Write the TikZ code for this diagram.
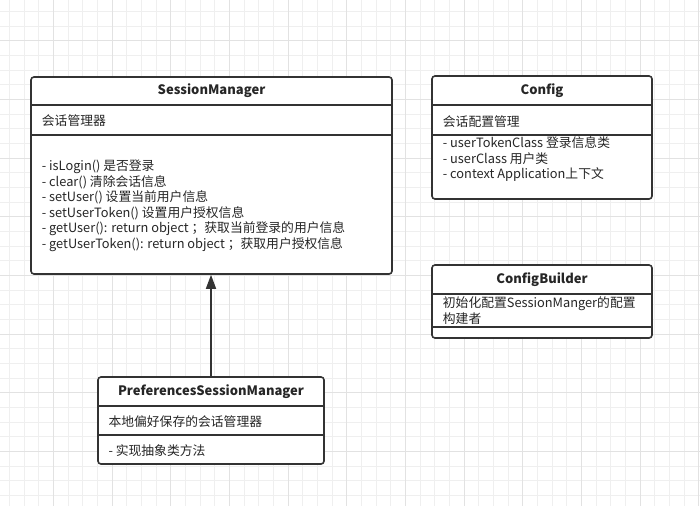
\documentclass[tikz,border=0pt]{standalone}
\usepackage{fontspec}
\setmainfont{Noto Sans CJK SC}
\usetikzlibrary{arrows.meta}
\definecolor{gridminor}{HTML}{EFEFEF}
\definecolor{gridmajor}{HTML}{E2E2E2}
\definecolor{umlline}{HTML}{333333}
\tikzset{
  classbox/.style={draw=umlline, line width=1.6pt, rounded corners=3pt, fill=white, inner sep=0pt},
  sep/.style={draw=umlline, line width=1.4pt},
  ctitle/.style={inner sep=0pt, font=\fontsize{13}{15}\selectfont\bfseries, text=black!85},
  ctext/.style={inner sep=0pt, anchor=west, font=\fontsize{12.8}{15}\selectfont, text=black!85},
}

\begin{document}
\begin{tikzpicture}[x=1pt, y=-1pt]
  \useasboundingbox (0,0) rectangle (700,506);
  \fill[white] (0,0) rectangle (700,506);
  % grid
  \foreach \k in {0,...,47} {
    \draw[gridminor, line width=0.8pt] ({9.33+14.667*\k}, 0) -- ({9.33+14.667*\k}, 506);
  }
  \foreach \k in {0,...,34} {
    \draw[gridminor, line width=0.8pt] (0, {11.33+14.667*\k}) -- (700, {11.33+14.667*\k});
  }
  \foreach \k in {0,...,11} {
    \draw[gridmajor, line width=0.8pt] ({53.33+58.67*\k}, 0) -- ({53.33+58.67*\k}, 506);
  }
  \foreach \k in {0,...,8} {
    \draw[gridmajor, line width=0.8pt] (0, {40.67+58.67*\k}) -- (700, {40.67+58.67*\k});
  }

  % SessionManager
  \node[classbox, minimum width=361pt, minimum height=197pt] (sm) at (211.5,175.5) {};
  \draw[sep] (sm.west |- 0,105) -- (sm.east |- 0,105);
  \draw[sep] (sm.west |- 0,135) -- (sm.east |- 0,135);
  \node[ctitle] (smtitle) at (211.5,91) {SessionManager};
  \node[ctext] (smdesc) at (41.7,120.5) {会话管理器};
  \foreach \t [count=\i] in {%
    - isLogin() 是否登录,
    - clear() 清除会话信息,
    - setUser() 设置当前用户信息,
    - setUserToken() 设置用户授权信息,
    - getUser(): return object ；获取当前登录的用户信息,
    - getUserToken(): return object ；获取用户授权信息} {
    \node[ctext] (smop\i) at (41.7, {151+15.6*\i}) {\t};
  }

  % Config
  \node[classbox, minimum width=220pt, minimum height=123pt] (cfg) at (542,137.5) {};
  \draw[sep] (cfg.west |- 0,105) -- (cfg.east |- 0,105);
  \draw[sep] (cfg.west |- 0,135) -- (cfg.east |- 0,135);
  \node[ctitle] (cfgtitle) at (542,90.5) {Config};
  \node[ctext] (cfgdesc) at (442.7,121.5) {会话配置管理};
  \foreach \t [count=\i] in {%
    - userTokenClass 登录信息类,
    - userClass 用户类,
    - context Application上下文} {
    \node[ctext] (cfgattr\i) at (442.7, {127+15.8*\i}) {\t};
  }

  % ConfigBuilder
  \node[classbox, minimum width=220pt, minimum height=73pt] (cb) at (542,301.5) {};
  \draw[sep] (cb.west |- 0,294) -- (cb.east |- 0,294);
  \draw[sep] (cb.west |- 0,327) -- (cb.east |- 0,327);
  \node[ctitle] (cbtitle) at (542,279.5) {ConfigBuilder};
  \node[ctext] (cbdesc1) at (442.7,303.3) {初始化配置SessionManger的配置};
  \node[ctext] (cbdesc2) at (442.7,319) {构建者};

  % PreferencesSessionManager
  \node[classbox, minimum width=226pt, minimum height=87pt] (psm) at (211,420.5) {};
  \draw[sep] (psm.west |- 0,406) -- (psm.east |- 0,406);
  \draw[sep] (psm.west |- 0,435) -- (psm.east |- 0,435);
  \node[ctitle] (psmtitle) at (211,391.5) {PreferencesSessionManager};
  \node[ctext] (psmdesc) at (108.3,421.5) {本地偏好保存的会话管理器};
  \node[ctext] (psmop1) at (108.3,451) {- 实现抽象类方法};

  % inheritance
  \draw[umlline, line width=1.6pt, -{Triangle[width=10pt,length=14pt]}] (psm.north) -- (psm.north |- sm.south);
\end{tikzpicture}
\end{document}
